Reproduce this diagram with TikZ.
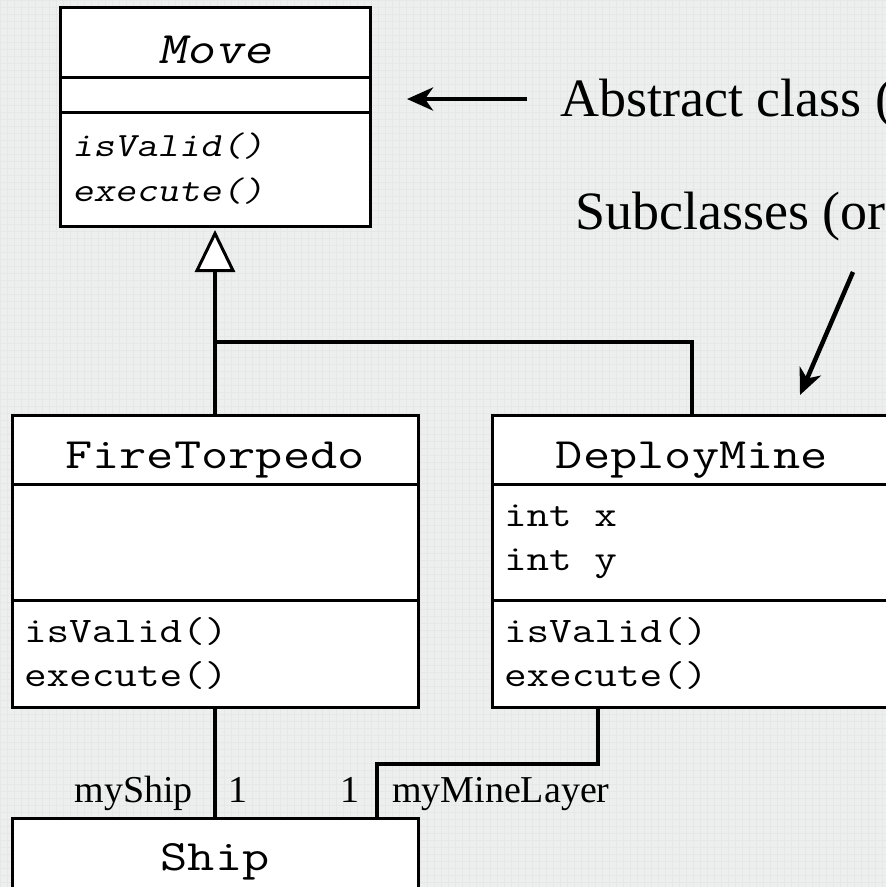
\documentclass[tikz,border=0pt]{standalone}
\usepackage{fontspec}
\setmainfont{Liberation Serif}
\newfontfamily\umltt{Latin Modern Mono}[FakeStretch=1.22]
\newfontfamily\umlttslant{Latin Modern Mono}[FakeStretch=1.22, FakeSlant=0.2]
\usetikzlibrary{positioning}
\usetikzlibrary{arrows.meta}
\definecolor{paper}{RGB}{237,238,238}
\definecolor{paperline}{RGB}{230,231,231}
\newcommand{\umlhead}{\fontsize{43.3}{50}\selectfont\umltt}
\newcommand{\umlmember}{\fontsize{36}{44}\selectfont\umltt\spaceskip=\fontcharwd\font`x\relax}
\newcommand{\umlabstract}{\fontsize{34}{45}\selectfont\umlttslant\spaceskip=\fontcharwd\font`x\relax}
\newcommand{\umlrole}{\fontsize{38}{44}\selectfont\rmfamily}
\newcommand{\umlnote}{\fontsize{54}{60}\selectfont\rmfamily}

\begin{document}
\begin{tikzpicture}[x=1pt,y=-1pt,
    box/.style={draw, line width=3pt, fill=white, outer sep=0pt, inner sep=0pt},
    head/.style={box, minimum height=69, text height=38pt, text depth=0pt, font=\umlhead},
    part/.style={box, align=flush left, inner xsep=12pt, font=\umlmember},
    assoc/.style={line width=4.5pt},
    generalize/.style={line width=4.5pt, shorten >=4pt,
        -{Triangle[length=42pt, width=40pt, fill=white, line width=3pt]}},
    pointer/.style={line width=4.5pt, -{Stealth[length=26pt, width=23pt, inset=8pt]}},
    role/.style={inner sep=0pt, font=\umlrole},
    note/.style={inner sep=0pt, font=\umlnote}
    ]
\useasboundingbox (0,0) rectangle (886,887);
\clip (0,0) rectangle (886,887);
\fill[paper] (0,0) rectangle (886,887);
\draw[paperline, line width=0.5pt, step=7pt] (0,0) grid (886,887);

\node[head, minimum width=310, minimum height=70, text height=42pt, font=\fontsize{45}{50}\selectfont\umlttslant] (move) at (215,42) {Move};
\node[part, minimum width=310, text width=286, minimum height=35, below=0pt of move] (moveattr) {};
\node[part, minimum width=310, text width=286, minimum height=114, below=0pt of moveattr, font=\umlabstract] (moveops) {isValid()\\execute()};

\node[head, minimum width=406] (fire) at (215,449.5) {FireTorpedo};
\node[part, minimum width=406, text width=382, minimum height=116, below=0pt of fire] (fireattr) {};
\node[part, minimum width=406, text width=382, minimum height=107, below=0pt of fireattr] (fireops) {isValid()\\execute()};

\node[head, minimum width=400] (deploy) at (692,449.5) {DeployMine};
\node[part, minimum width=400, text width=376, minimum height=116, below=0pt of deploy] (deployattr) {int x\\int y};
\node[part, minimum width=400, text width=376, minimum height=107, below=0pt of deployattr] (deployops) {isValid()\\execute()};

\node[head, minimum width=406, minimum height=80, text depth=14pt] (ship) at (215,858) {Ship};

\coordinate (branch) at (215,342);
\draw[generalize] (fire.north) -- (moveops.south);
\draw[assoc] (deploy.north) |- (branch);
\draw[assoc] (fireops.south) -- (ship.north);
\draw[assoc] ([xshift=-94pt]deployops.south) -- ++(0,57) -| ([xshift=162pt]ship.north);

\node[role, anchor=base east] (shiprole) at (193,802) {myShip};
\node[role, anchor=base west] (shipmult) at (228,802) {1};
\node[role, anchor=base east] (minemult) at (360,802) {1};
\node[role, anchor=base west] (minerole) at (392,802) {myMineLayer};

\node[note, anchor=base west] (abstractnote) at (560,116) {Abstract class (};
\node[note, anchor=base west] (subnote) at (575,229) {Subclasses (or};

\coordinate (abstail) at ([xshift=-33pt,yshift=4pt]abstractnote.west);
\coordinate (abstip) at ([xshift=37pt]moveattr.east);
\draw[pointer] (abstail) -- (abstail -| abstip);
\draw[pointer] ([xshift=278pt,yshift=-43pt]subnote.base west) -- ([xshift=108pt,yshift=20pt]deploy.north);
\end{tikzpicture}
\end{document}
